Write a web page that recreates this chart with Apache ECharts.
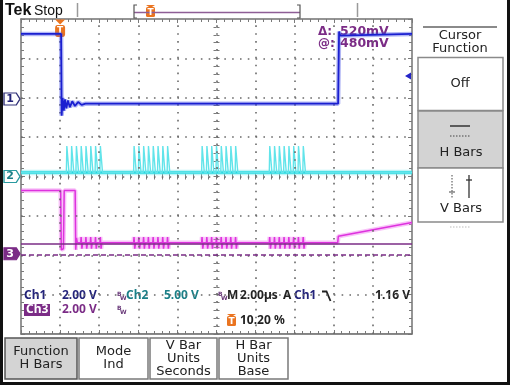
<!DOCTYPE html>
<html>
<head>
<meta charset="utf-8">
<script src="https://cdn.jsdelivr.net/npm/echarts@6/dist/echarts.min.js"></script>
<style>
html,body{margin:0;padding:0;background:#fff;overflow:hidden;}
#chart{width:510px;height:385px;}
</style>
</head>
<body>
<div id="chart"></div>
<script>
// ---------------- data ----------------
const timeAxis = [-2, 18, 2];          // µs : min, max, 2 µs/div
const divAxis = [-4, 4, 1];            // vertical graticule divisions
const centerX = [-5, 5];               // horizontal divisions around centre
const xGridTicks = [0, 2, 4, 6, 8, 10, 12, 14, 16];   // µs graticule lines (inner)
const yGridTicks = [-3, -2, -1, 0, 1, 2, 3];          // division graticule lines (inner)
const ch1Range = [-11.94, 4.06];       // Ch1 volts on screen (2 V/div)
const ch2Range = [-20, 20];            // Ch2 volts on screen (5 V/div)
const ch3Range = [-4.08, 11.92];       // Ch3 volts on screen (2 V/div)

// Ch1 (blue)
const ch1T = [-2, 0.05, 0.08, 0.13, 0.19, 0.25, 0.32, 0.40, 0.50, 0.62, 0.76, 0.92, 1.10, 1.30, 14.22, 14.27, 14.33, 14.42, 18];
const ch1V = [3.30, 3.30, -0.85, 0.05, -0.60, -0.02, -0.48, -0.08, -0.42, -0.12, -0.36, -0.16, -0.30, -0.24, -0.24, 3.42, 3.22, 3.30, 3.30];

// Ch2 (cyan) bursts
const ch2BurstStart = [0.32, 3.76, 7.24, 10.70];
const ch2PulseOffset = [0, 0.245, 0.49, 0.735, 0.98, 1.225, 1.47, 1.715];
const ch2Level = [0.51, 3.87];            // low, high (V)
const ch2PulseEdge = [0.025, 0.11, 0.135];// µs after each pulse start: top reached, fall start, low reached

// Ch3 (magenta)
const ch3T = [-2, 0.03, 0.06, 0.17, 0.21, 0.77, 0.80, 0.84, 0.88, 14.20, 14.23, 18];
const ch3V = [3.21, 3.21, 0.20, 0.25, 3.21, 3.21, 0.20, 0.80, 0.55, 0.55, 0.88, 1.58];
const ch3Spike = [0.85, 0.25];          // coupled spike peak / trough (V)
const ch3SpikeEdge = [0.02, 0.06, 0.10];

const cursorLevels = [0.48, -0.04];     // H-bar cursors (Ch3 volts)
const trigLevel = 1.16;                 // Ch1 trigger level (V)

// ---------------- build traces ----------------
const ch1Data = ch1T.map((t, i) => [t, ch1V[i]]);

const pulseTimes = [];
ch2BurstStart.forEach(b => ch2PulseOffset.forEach(o => pulseTimes.push(+(b + o).toFixed(3))));
const ch2Data = [[timeAxis[0], ch2Level[0]]];
pulseTimes.forEach(t => {
  ch2Data.push([t, ch2Level[0]], [t + ch2PulseEdge[0], ch2Level[1]], [t + ch2PulseEdge[1], ch2Level[1]], [t + ch2PulseEdge[2], ch2Level[0]]);
});
ch2Data.push([timeAxis[1], ch2Level[0]]);
const ch2Base = [[timeAxis[0], ch2Level[0]], [timeAxis[1], ch2Level[0]]];

const ch3Data = [];
ch3T.forEach((t, i) => {
  ch3Data.push([t, ch3V[i]]);
  if (t === 0.88) {
    pulseTimes.filter(p => p > 0.9 && p < 14.2).forEach(p => {
      ch3Data.push([p, ch3V[i]], [p + ch3SpikeEdge[0], ch3Spike[0]], [p + ch3SpikeEdge[1], ch3Spike[1]], [p + ch3SpikeEdge[2], ch3V[i]]);
    });
  }
});

// ---------------- styling ----------------
const DJ = '"DejaVu Sans", sans-serif';
const NS = '"Noto Sans", sans-serif';
const PURPLE = '#7b2c86';
const NAVY = '#24247a';
const TEAL = '#1b7f87';
const ORANGE = '#ea7420';
const DOT = '#6a6a6a';

function frameAxis(gridPos, min, max, interval) {
  return {
    type: 'value', gridIndex: 0, position: gridPos, min, max, interval,
    axisLine: { show: true, onZero: false, lineStyle: { color: '#727272', width: 1.5 } },
    axisTick: { show: true, inside: true, length: 4, lineStyle: { color: '#7a7a7a', width: 1 } },
    minorTick: { show: true, splitNumber: 5, length: 3, lineStyle: { color: '#7a7a7a', width: 1 } },
    axisLabel: { show: false },
    splitLine: { show: false },
    minorSplitLine: { show: false }
  };
}
function centerAxis(pos, min, max, onZeroIdx) {
  return {
    type: 'value', gridIndex: 1, position: pos, min, max, interval: 1,
    axisLine: { show: true, onZero: true, onZeroAxisIndex: onZeroIdx, lineStyle: { color: '#8a8a8a', opacity: 0 } },
    axisTick: { show: true, inside: true, length: 3, lineStyle: { color: '#7a7a7a', width: 1 } },
    minorTick: { show: true, splitNumber: 5, length: 3, lineStyle: { color: '#7a7a7a', width: 1 } },
    axisLabel: { show: false },
    splitLine: { show: false }
  };
}
function hiddenY(range) {
  return { type: 'value', gridIndex: 0, show: false, min: range[0], max: range[1], splitLine: { show: false } };
}

const markerPath = 'path://M0,0 L13,0 L17,6 L13,12 L0,12 Z';
function chMarker(label, fill, stroke, txt, yv) {
  return {
    coord: [timeAxis[0], yv], symbol: markerPath, symbolSize: [16, 12], symbolOffset: [-9, 0],
    itemStyle: { color: fill, borderColor: stroke, borderWidth: 1.2 },
    label: { show: true, position: 'inside', formatter: label, color: txt, fontSize: 11, fontWeight: 'bold', fontFamily: DJ, offset: [-2, 0] }
  };
}

// dotted graticule lines as mark lines on the screen axes
const graticuleLines = []
  .concat(xGridTicks.map(v => ({ xAxis: v, lineStyle: { type: [1.6, 6.275], color: DOT, width: 1.6 } })))
  .concat(yGridTicks.map(v => ({ yAxis: v, lineStyle: { type: [1.6, 6.22], color: DOT, width: 1.6 } })));

// ---------------- decorative graphics (screen furniture) ----------------
const G = [];
function T(x, y, s, o) {
  o = o || {};
  G.push({ type: 'text', x, y, z: o.z == null ? 5 : o.z, silent: true,
    style: { text: s, fill: o.c || '#1a1a1a', font: o.f || ('13px ' + DJ),
      align: o.a || 'left', textAlign: o.a || 'left', verticalAlign: 'middle', textVerticalAlign: 'middle' } });
}
function L(x1, y1, x2, y2, c, w, dash) {
  G.push({ type: 'line', silent: true, z: 5, shape: { x1, y1, x2, y2 }, style: { stroke: c, lineWidth: w || 1, lineDash: dash || null } });
}
function R(x, y, w, h, fill, stroke, lw, r) {
  G.push({ type: 'rect', silent: true, z: 4, shape: { x, y, width: w, height: h, r: r || 0 }, style: { fill, stroke: stroke || null, lineWidth: lw || 1 } });
}
function P(points, c, w) {
  G.push({ type: 'polyline', silent: true, z: 5, shape: { points }, style: { stroke: c, lineWidth: w || 1, fill: null } });
}
function Tri(points, c) {
  G.push({ type: 'polygon', silent: true, z: 5, shape: { points }, style: { fill: c } });
}
function trigIcon(x, y) {
  Tri([[x, y], [x + 9, y], [x + 4.5, y + 3]], ORANGE);
  R(x, y + 2, 9, 10, ORANGE, null, 1, 1.5);
  T(x + 4.5, y + 7.5, 'T', { c: '#fff', f: 'bold 9px ' + DJ, a: 'center', z: 6 });
}
function bwIcon(x, y, c) {
  T(x, y - 2, 'B', { c, f: 'bold 6px ' + DJ });
  T(x + 3, y + 2, 'W', { c, f: 'bold 6px ' + DJ });
}

// outer frame
P([[1.5, 0], [1.5, 383.5], [508.5, 383.5], [508.5, 0]], '#111', 3);

// top status bar
T(5, 11, 'Tek', { f: 'bold 16px "Liberation Sans"', c: '#111' });
T(34, 11, 'Stop', { f: '14px "Liberation Sans"', c: '#111' });
L(77.5, 3, 77.5, 17, '#9a9a9a', 1.5);
L(134, 12.5, 300, 12.5, '#8e5e96', 1.5);
P([[137, 5], [134, 5], [134, 18], [137, 18]], '#555', 1.2);
P([[297, 5], [300, 5], [300, 18], [297, 18]], '#555', 1.2);
trigIcon(146, 5);
L(357.5, 3, 357.5, 17, '#9a9a9a', 1.5);

// cursor readouts
T(318, 32, 'Δ:', { c: PURPLE, f: 'bold 12px ' + DJ, z: 1 });
T(340, 32, '520mV', { c: PURPLE, f: 'bold 12.5px ' + DJ, z: 1 });
T(318, 44, '@:', { c: PURPLE, f: 'bold 12px ' + DJ, z: 1 });
T(340, 44, '480mV', { c: PURPLE, f: 'bold 12.5px ' + DJ, z: 1 });

// right side menu
L(423, 27, 497, 27, '#8a8a8a', 2);
T(460, 36, 'Cursor', { a: 'center', f: '13px ' + DJ, c: '#222' });
T(460, 49, 'Function', { a: 'center', f: '13px ' + DJ, c: '#222' });
R(418, 57.5, 85, 53, '#ffffff', '#8a8a8a', 1.5);
T(460, 84, 'Off', { a: 'center', f: '13px ' + DJ, c: '#222' });
R(418, 111, 85, 57, '#d3d3d3', '#8a8a8a', 1.5);
L(450, 126, 470, 126, '#333', 1.5);
L(450, 136, 470, 136, '#444', 1, [1.5, 1.5]);
T(461, 153, 'H Bars', { a: 'center', f: '13px ' + DJ, c: '#222' });
R(418, 168, 85, 54, '#ffffff', '#8a8a8a', 1.5);
L(452, 175, 452, 198, '#444', 1, [1.5, 1.5]);
L(449, 192, 455, 192, '#444', 1);
L(469, 175, 469, 198, '#333', 1.3);
L(466, 180, 472, 180, '#333', 1.3);
T(461, 209, 'V Bars', { a: 'center', f: '13px ' + DJ, c: '#222' });
L(450, 227, 470, 227, '#bbb', 1, [1.5, 1.5]);

// bottom menu buttons
R(5, 338, 72, 41, '#d4d4d4', '#555', 1.5);
T(41, 352, 'Function', { a: 'center', c: '#222' });
T(41, 365, 'H Bars', { a: 'center', c: '#222' });
R(79, 338, 69, 41, '#ffffff', '#7a7a7a', 1.5);
T(113.5, 352, 'Mode', { a: 'center', c: '#222' });
T(113.5, 365, 'Ind', { a: 'center', c: '#222' });
R(150, 338, 67, 41, '#ffffff', '#7a7a7a', 1.5);
T(183.5, 346, 'V Bar', { a: 'center', c: '#222' });
T(183.5, 359, 'Units', { a: 'center', c: '#222' });
T(183.5, 372, 'Seconds', { a: 'center', c: '#222' });
R(219, 338, 69, 41, '#ffffff', '#7a7a7a', 1.5);
T(253.5, 346, 'H Bar', { a: 'center', c: '#222' });
T(253.5, 359, 'Units', { a: 'center', c: '#222' });
T(253.5, 372, 'Base', { a: 'center', c: '#222' });

// channel / timebase readouts
const RF = 'bold 12px ' + NS;
T(24, 296, 'Ch1', { c: NAVY, f: RF });
T(62, 296, '2.00 V', { c: NAVY, f: RF });
bwIcon(117, 296, '#6a3a7a');
T(126, 296, 'Ch2', { c: TEAL, f: RF });
T(164, 296, '5.00 V', { c: TEAL, f: RF });
bwIcon(218, 296, '#6a3a7a');
T(227, 296, 'M', { c: '#222', f: RF });
T(240, 296, '2.00µs', { c: '#222', f: RF });
T(283, 296, 'A', { c: '#222', f: RF });
T(294, 296, 'Ch1', { c: NAVY, f: RF });
P([[322, 291.5], [326.5, 291.5], [330.5, 301]], '#222', 1.8);
T(410, 296, '1.16 V', { c: '#222', f: RF, a: 'right' });
R(24, 304, 26, 12, PURPLE, null);
T(26, 310, 'Ch3', { c: '#fff', f: RF, z: 6 });
T(62, 310, '2.00 V', { c: PURPLE, f: RF });
bwIcon(117, 310, '#6a3a7a');
trigIcon(227, 314);
T(240, 321, '10.20 %', { c: '#222', f: RF });

// ---------------- chart ----------------
const rect = { left: 21, top: 19, width: 391, height: 315 };
const chart = echarts.init(document.getElementById('chart'), null, { renderer: 'canvas' });
chart.setOption({
  animation: false,
  backgroundColor: '#ffffff',
  grid: [
    Object.assign({ show: false, containLabel: false, outerBoundsMode: 'none' }, rect),
    Object.assign({ show: false, containLabel: false, outerBoundsMode: 'none' }, rect)
  ],
  xAxis: [
    frameAxis('bottom', timeAxis[0], timeAxis[1], timeAxis[2]),
    frameAxis('top', timeAxis[0], timeAxis[1], timeAxis[2]),
    centerAxis('bottom', centerX[0], centerX[1], 5),
    centerAxis('top', centerX[0], centerX[1], 5)
  ],
  yAxis: [
    frameAxis('left', divAxis[0], divAxis[1], divAxis[2]),
    frameAxis('right', divAxis[0], divAxis[1], divAxis[2]),
    hiddenY(ch1Range),
    hiddenY(ch2Range),
    hiddenY(ch3Range),
    centerAxis('left', divAxis[0], divAxis[1], 2),
    centerAxis('right', divAxis[0], divAxis[1], 2)
  ],
  series: [
    { name: 'graticule', type: 'line', xAxisIndex: 0, yAxisIndex: 0, data: [[timeAxis[0], divAxis[0]], [timeAxis[1], divAxis[0]]],
      symbol: 'none', silent: true, color: DOT,
      lineStyle: { width: 1, color: '#727272' }, z: 1,
      markLine: { silent: true, symbol: 'none', label: { show: false }, animation: false, precision: 4,
        lineStyle: { color: DOT, width: 1.6 }, data: graticuleLines } },
    { name: 'Ch2 base halo', type: 'line', xAxisIndex: 0, yAxisIndex: 3, data: ch2Base, symbol: 'none', silent: true,
      lineStyle: { color: '#6fe9ee', width: 5.5, opacity: 0.45 }, z: 2 },
    { name: 'Ch2 base', type: 'line', xAxisIndex: 0, yAxisIndex: 3, data: ch2Base, symbol: 'none', silent: true,
      lineStyle: { color: '#25d9e0', width: 2.5 }, z: 2 },
    { name: 'Ch2', type: 'line', xAxisIndex: 0, yAxisIndex: 3, data: ch2Data, symbol: 'none', silent: true,
      lineStyle: { color: '#62e4ea', width: 1.4 }, z: 3,
      markPoint: { silent: true, data: [chMarker('2', '#ffffff', '#2a9aa0', TEAL, 0)] } },
    { name: 'Ch3 halo', type: 'line', xAxisIndex: 0, yAxisIndex: 4, data: ch3Data, symbol: 'none', silent: true,
      lineStyle: { color: '#ee66ee', width: 4.5, opacity: 0.4 }, z: 3 },
    { name: 'Ch3', type: 'line', xAxisIndex: 0, yAxisIndex: 4, data: ch3Data, symbol: 'none', silent: true,
      lineStyle: { color: '#de32de', width: 1.5 }, z: 4,
      markLine: { silent: true, symbol: 'none', label: { show: false }, animation: false,
        data: [
          { yAxis: cursorLevels[0], lineStyle: { type: 'solid', color: PURPLE, width: 1.5 } },
          { yAxis: cursorLevels[1], lineStyle: { type: [5, 3], color: PURPLE, width: 1.5 } }
        ] },
      markPoint: { silent: true, data: [chMarker('3', PURPLE, PURPLE, '#ffffff', 0)] } },
    { name: 'Ch1 halo', type: 'line', xAxisIndex: 0, yAxisIndex: 2, data: ch1Data, symbol: 'none', silent: true,
      lineStyle: { color: '#3d48e6', width: 4.5, opacity: 0.4 }, z: 5 },
    { name: 'Ch1', type: 'line', xAxisIndex: 0, yAxisIndex: 2, data: ch1Data, symbol: 'none', silent: true,
      lineStyle: { color: '#1a1fd0', width: 1.8 }, z: 6,
      markPoint: { silent: true, data: [
        chMarker('1', '#ffffff', '#33337a', NAVY, 0),
        { coord: [0, ch1Range[1]], symbol: 'triangle', symbolRotate: 180, symbolSize: [10, 5], symbolOffset: [0, 3],
          itemStyle: { color: ORANGE }, label: { show: false } },
        { coord: [0, ch1Range[1]], symbol: 'roundRect', symbolSize: [10, 12], symbolOffset: [0, 12],
          itemStyle: { color: ORANGE }, label: { show: true, position: 'inside', formatter: 'T', color: '#fff', fontSize: 9, fontWeight: 'bold', fontFamily: DJ } },
        { coord: [timeAxis[1], trigLevel], symbol: 'triangle', symbolRotate: 90, symbolSize: [7, 6], symbolOffset: [-4, 0],
          itemStyle: { color: '#2424c8' }, label: { show: false } }
      ] } }
  ],
  graphic: G
});
</script>
</body>
</html>
